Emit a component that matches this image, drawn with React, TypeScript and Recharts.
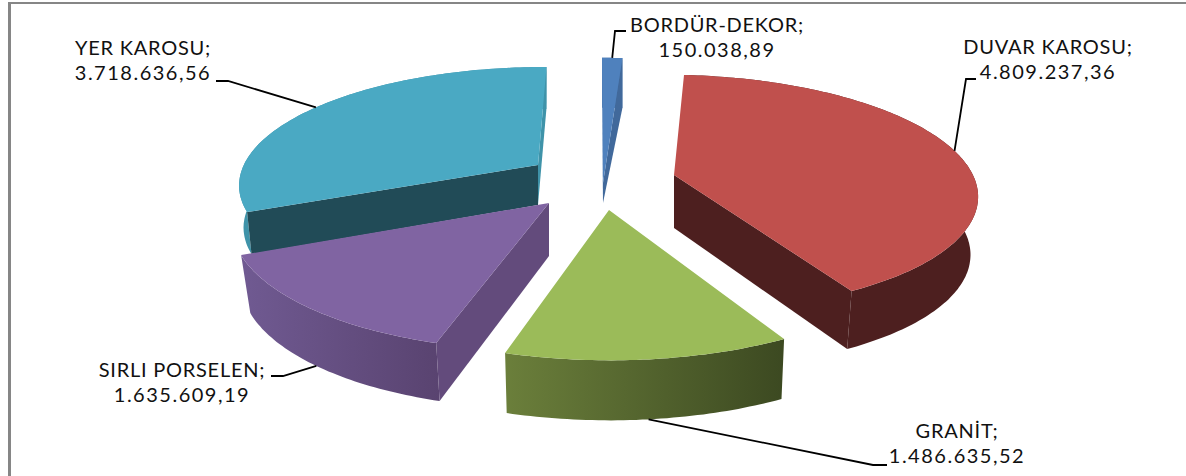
import { PieChart, Pie } from "recharts";

// Painted back to front, so YER KAROSU comes first and the pie is rotated to suit
const sliceNames = ["YER KAROSU", "BORDÜR-DEKOR", "DUVAR KAROSU", "GRANİT", "SIRLI PORSELEN"];
const sliceValues = [3718636.56, 150038.89, 4809237.36, 1486635.52, 1635609.19];

const topColors = ["#4aa9c3", "#4f81bd", "#c0504d", "#9bbb59", "#8064a2"];
const wallColors = ["#3f93a9", "#4a76ab", "#4d1f1f", "url(#granitWall)", "url(#sirliWall)"];
const startFaceColors = ["#214b57", "#4a76ab", "#4d1f1f", "#4a5a2a", "#634b7c"];
const endFaceColors = ["#3f93a9", "#41699b", "#4d1f1f", "#4a5a2a", "#634b7c"];

// Tilted-plane projection of each exploded slice
const frames = [
  { dx: -55, dy: -73, rx: 293.9, sx: 9.8, sy: 0.6, ry: 112.7, kx: 0.985, apexDepth: 40, rimDepth: 42, onWall: false },
  { dx: 10, dy: -55, rx: 294, sx: -1.15, sy: 0, ry: 144, kx: 1, apexDepth: 20, rimDepth: 50, onWall: false },
  { dx: 81, dy: -63, rx: 298.5, sx: -12.4, sy: -0.8, ry: 115.3, kx: 0.975, apexDepth: 53, rimDepth: 58, onWall: false },
  { dx: 16, dy: -28, rx: 314.4, sx: -1.2, sy: -0.2, ry: 127.8, kx: 0.985, apexDepth: 60, rimDepth: 60, onWall: true },
  { dx: -44, dy: -35, rx: 312.4, sx: 7.4, sy: 1, ry: 125.5, kx: 0.97, apexDepth: 53, rimDepth: 58, onWall: true },
];
const PERSPECTIVE = 0.15;

// Label text centre, first baseline and the leader's elbow
const labelSpots = [
  { x: 143, y: 55, lineX: 216, elbowX: 228, elbowY: 81 },
  { x: 717, y: 32, lineX: 626, elbowX: 615, elbowY: 31 },
  { x: 1048, y: 54, lineX: 976, elbowX: 966, elbowY: 79 },
  { x: 957, y: 438, lineX: 887, elbowX: 873, elbowY: 465 },
  { x: 182, y: 377, lineX: 271, elbowX: 283, elbowY: 376 },
];

const total = sliceValues.reduce((a, b) => a + b, 0);
const pieStart = 90 + (360 * sliceValues[0]) / total;

const chartData = sliceNames.map((name, i) => ({ name, value: sliceValues[i] }));

const formatValue = (v: number) =>
  v.toLocaleString("tr-TR", { minimumFractionDigits: 2, maximumFractionDigits: 2 });

// deg is clockwise from 12 o'clock
const rimPoint = (f: any, deg: number) => {
  const rad = (deg * Math.PI) / 180;
  const s = Math.sin(rad);
  const c = Math.cos(rad);
  const w = 1 + PERSPECTIVE * c;
  return { x: (f.rx * s + f.sx * c) / w, y: (f.sy * s - f.ry * c) / w };
};

const lowered = (f: any, p: { x: number; y: number }, depth: number) => ({
  x: p.x * f.kx,
  y: p.y + depth,
});

const toPath = (pts: { x: number; y: number }[], ox: number, oy: number) =>
  "M" + pts.map((p) => `${(p.x + ox).toFixed(1)},${(p.y + oy).toFixed(1)}`).join("L") + "Z";

// A cut face shows only when its normal leans towards the viewer (6 o'clock)
const facesViewer = (normalDeg: number) => Math.cos(((normalDeg - 180) * Math.PI) / 180) > -0.01;

const Slice3D = (props: any) => {
  const { cx, cy, startAngle, endAngle, index } = props;
  const f = frames[index];
  const ox = cx + f.dx;
  const oy = cy + f.dy;
  const from = 90 - startAngle;
  const to = 90 - endAngle;
  const steps = Math.max(2, Math.ceil(to - from));
  const rim = [];
  for (let i = 0; i <= steps; i++) rim.push(rimPoint(f, from + ((to - from) * i) / steps));
  const rimLow = rim.map((p) => lowered(f, p, f.rimDepth));
  const apex = { x: 0, y: 0 };
  const apexLow = lowered(f, apex, f.apexDepth);
  const wall = [...rim, ...[...rimLow].reverse()];
  const startFace = [apex, rim[0], rimLow[0], apexLow];
  const endFace = [apex, rim[steps], rimLow[steps], apexLow];
  return (
    <g>
      <path d={toPath(wall, ox, oy)} fill={wallColors[index]} />
      {facesViewer(from - 90) && <path d={toPath(startFace, ox, oy)} fill={startFaceColors[index]} />}
      {facesViewer(to + 90) && <path d={toPath(endFace, ox, oy)} fill={endFaceColors[index]} />}
      <path d={toPath([apex, ...rim], ox, oy)} fill={topColors[index]} />
    </g>
  );
};

const SliceLabel = (props: any) => {
  const { cx, cy, midAngle, index } = props;
  const f = frames[index];
  const spot = labelSpots[index];
  const mid = rimPoint(f, 90 - midAngle);
  const end = f.onWall ? lowered(f, mid, f.rimDepth) : mid;
  const pts = `${spot.lineX},${spot.elbowY} ${spot.elbowX},${spot.elbowY} ${end.x + cx + f.dx},${end.y + cy + f.dy}`;
  return (
    <g>
      <polyline points={pts} fill="none" stroke="#000" strokeWidth={1.8} />
      <text x={spot.x} y={spot.y} textAnchor="middle" fontFamily="Lato" fontSize={20} letterSpacing={0.75} fill="#111">
        {sliceNames[index]};
      </text>
      <text x={spot.x} y={spot.y + 25} textAnchor="middle" fontFamily="Lato" fontSize={20} letterSpacing={1.5} fill="#111">
        {formatValue(sliceValues[index])}
      </text>
    </g>
  );
};

export default function App() {
  return (
    <div style={{ position: "absolute", left: 0, top: 0, width: 1186, height: 476, background: "#fff", overflow: "hidden" }}>
      <div
        style={{
          position: "absolute",
          left: 8,
          top: 2,
          right: 0,
          bottom: 0,
          borderTop: "2px solid #868686",
          borderLeft: "3px solid #868686",
        }}
      />
      <div style={{ position: "absolute", left: 0, top: 0 }}>
        <PieChart width={1186} height={476} margin={{ top: 0, right: 0, bottom: 0, left: 0 }}>
          <defs>
            <linearGradient id="granitWall" x1="0" y1="0" x2="1" y2="0">
              <stop offset="0%" stopColor="#6b7f3b" />
              <stop offset="100%" stopColor="#3c4921" />
            </linearGradient>
            <linearGradient id="sirliWall" x1="0" y1="0" x2="1" y2="0">
              <stop offset="0%" stopColor="#705a92" />
              <stop offset="100%" stopColor="#594370" />
            </linearGradient>
          </defs>
          <Pie
            data={chartData}
            dataKey="value"
            nameKey="name"
            cx={593}
            cy={238}
            outerRadius={200}
            startAngle={pieStart}
            endAngle={pieStart - 360}
            stroke="none"
            shape={Slice3D}
            label={SliceLabel}
            labelLine={false}
            isAnimationActive={false}
          />
        </PieChart>
      </div>
    </div>
  );
}
